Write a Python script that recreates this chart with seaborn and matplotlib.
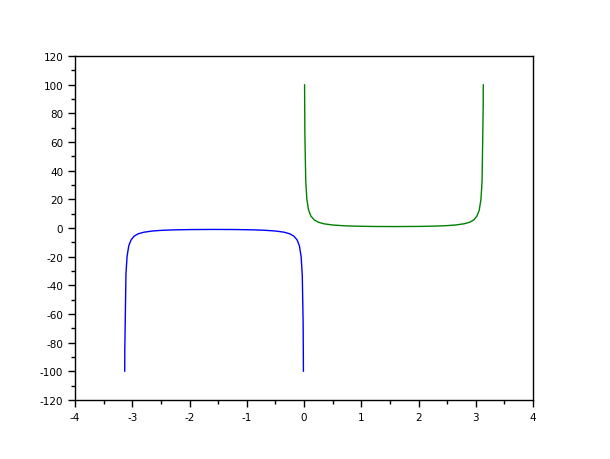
import matplotlib
matplotlib.use("Agg")
import matplotlib.pyplot as plt
import seaborn as sns
import pandas as pd
from matplotlib.ticker import MultipleLocator

sns.set_style("white")
plt.rcParams['font.family'] = ['DejaVu Sans']
plt.rcParams['axes.unicode_minus'] = False

# values
x_neg = [-3.1316, -3.13, -3.11, -3.09, -3.06, -3.02, -2.97, -2.9, -2.8, -2.65, -2.5, -2.3, -2.0,
         -1.57, -1.2, -0.9, -0.7, -0.5, -0.35, -0.25, -0.18, -0.12, -0.08, -0.05, -0.03, -0.015, -0.01]
y_neg = [-100, -85, -32, -19.6, -12.3, -8.3, -5.8, -4.1, -2.97, -2.11, -1.67, -1.34, -1.10,
         -1.0, -1.07, -1.28, -1.55, -2.09, -2.91, -4.04, -5.59, -8.35, -12.5, -20, -33.3, -66.7, -100]
x_pos = [0.01, 0.015, 0.03, 0.05, 0.08, 0.12, 0.18, 0.25, 0.35, 0.5, 0.7, 0.9, 1.2, 1.57,
         2.0, 2.3, 2.5, 2.65, 2.8, 2.9, 2.97, 3.02, 3.06, 3.09, 3.11, 3.13, 3.1316]
y_pos = [100, 66.7, 33.3, 20, 12.5, 8.35, 5.59, 4.04, 2.91, 2.09, 1.55, 1.28, 1.07, 1.0,
         1.10, 1.34, 1.67, 2.11, 2.97, 4.1, 5.8, 8.3, 12.3, 19.6, 32, 85, 100]

df_neg = pd.DataFrame({"x": x_neg, "y": y_neg})
df_pos = pd.DataFrame({"x": x_pos, "y": y_pos})

fig = plt.figure(figsize=(6.1, 4.6), dpi=100)
ax = fig.add_axes([75/610, 1-401/460, (533-75)/610, (401-57)/460])
sns.lineplot(data=df_neg, x="x", y="y", ax=ax, color=(0, 0, 1), sort=False, estimator=None, linewidth=1)
sns.lineplot(data=df_pos, x="x", y="y", ax=ax, color=(0, 0.5, 0), sort=False, estimator=None, linewidth=1)

ax.set_xlim(-4, 4)
ax.set_ylim(-120, 120)
ax.xaxis.set_major_locator(MultipleLocator(1))
ax.xaxis.set_minor_locator(MultipleLocator(0.5))
ax.yaxis.set_major_locator(MultipleLocator(20))
ax.yaxis.set_minor_locator(MultipleLocator(10))
ax.set_xlabel("")
ax.set_ylabel("")
for s in ax.spines.values():
    s.set_color("black")
    s.set_linewidth(1)
ax.tick_params(which="major", direction="out", length=5, width=1, colors="black",
               labelsize=7.5, bottom=True, left=True, top=False, right=False, pad=3.5)
ax.tick_params(which="minor", direction="out", length=3, width=1, colors="black",
               bottom=True, left=True, top=False, right=False)
fig.savefig("out.png", dpi=100)
